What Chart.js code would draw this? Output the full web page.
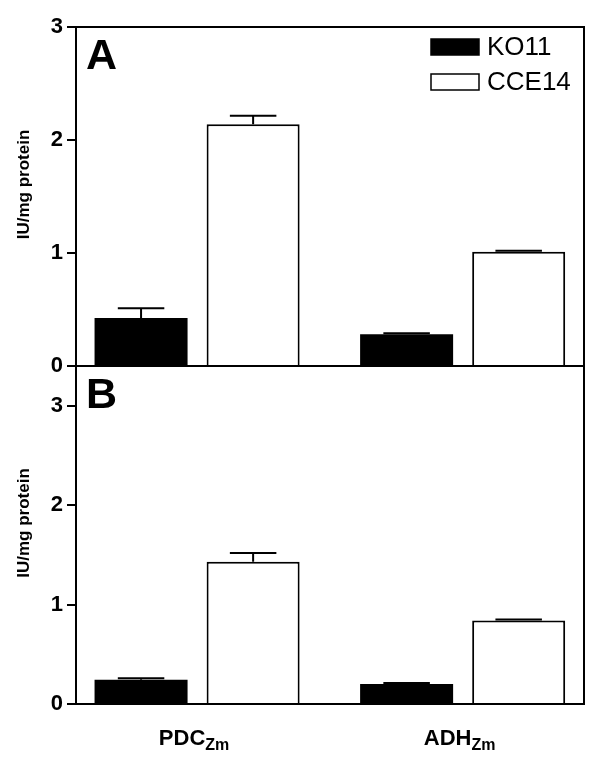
<!DOCTYPE html>
<html>
<head>
<meta charset="utf-8">
<script src="https://cdn.jsdelivr.net/npm/chart.js@4.4.1/dist/chart.umd.min.js"></script>
<style>
    body { margin: 0; background: #fff; }
    #wrap { position: relative; width: 600px; height: 780px; }
    canvas { position: absolute; left: 0; top: 0; }
</style>
</head>
<body>
<div id="wrap">
    <canvas id="chartA" width="600" height="780"></canvas>
    <canvas id="chartB" width="600" height="780"></canvas>
</div>
<script>
// Données
const categories = ["PDC", "ADH"];
const subscripts = ["Zm", "Zm"];
const seriesNames = ["KO11", "CCE14"];

// Panneau A
const ko11A = [0.425, 0.28];
const ko11ErrA = [0.085, 0.01];
const cce14A = [2.14, 1.01];
const cce14ErrA = [0.075, 0.01];

// Panneau B
const ko11B = [0.245, 0.2];
const ko11ErrB = [0.015, 0.01];
const cce14B = [1.43, 0.84];
const cce14ErrB = [0.09, 0.01];

const yTicksA = [0, 1, 2, 3];
const yMaxA = 3;
const yTicksB = [0, 1, 2, 3];
const yMaxB = 3.4;

const yTitle = "IU/mg protein";
const FONT = "'Liberation Sans', Arial, sans-serif";

// Cadre autour de la zone de tracé
const framePlugin = {
    id: "frame",
    afterDraw(chart) {
        const { ctx, chartArea: a } = chart;
        ctx.save();
        ctx.strokeStyle = "#000";
        ctx.lineWidth = 2;
        ctx.strokeRect(a.left, a.top, a.right - a.left, a.bottom - a.top);
        ctx.restore();
    }
};

// Barres d'erreur (moitié haute seulement)
const errorPlugin = {
    id: "errorBars",
    afterDatasetsDraw(chart) {
        const { ctx } = chart;
        const y = chart.scales.y;
        ctx.save();
        ctx.strokeStyle = "#000";
        ctx.lineWidth = 2;
        chart.data.datasets.forEach((ds, i) => {
            const meta = chart.getDatasetMeta(i);
            meta.data.forEach((bar, j) => {
                const top = y.getPixelForValue(ds.data[j].y + ds.errors[j]);
                const cap = bar.width / 4;
                ctx.beginPath();
                ctx.moveTo(bar.x, bar.y);
                ctx.lineTo(bar.x, top);
                ctx.moveTo(bar.x - cap, top);
                ctx.lineTo(bar.x + cap, top);
                ctx.stroke();
            });
        });
        ctx.restore();
    }
};

// Lettre du panneau, titre Y, légende, étiquettes X
const textPlugin = {
    id: "texts",
    afterDraw(chart, args, opts) {
        const { ctx, chartArea: a } = chart;
        ctx.save();
        ctx.fillStyle = "#000";

        // lettre A / B
        ctx.font = "bold 43px " + FONT;
        ctx.textAlign = "left";
        ctx.textBaseline = "alphabetic";
        ctx.fillText(opts.letter, a.left + 10, a.top + 42);

        // titre de l'axe Y
        ctx.save();
        ctx.translate(24, (a.top + a.bottom) / 2 - 12);
        ctx.rotate(-Math.PI / 2);
        ctx.font = "bold 17px " + FONT;
        ctx.textAlign = "center";
        ctx.textBaseline = "middle";
        ctx.fillText(yTitle, 0, 0);
        ctx.restore();

        if (opts.legend) {
            ctx.font = "26px " + FONT;
            ctx.textAlign = "left";
            ctx.textBaseline = "middle";
            chart.data.datasets.forEach((ds, i) => {
                const cy = a.top + 20 + i * 35;
                const bx = a.right - 153;
                ctx.fillStyle = ds.backgroundColor;
                ctx.fillRect(bx, cy - 8, 48, 16);
                ctx.strokeStyle = "#000";
                ctx.lineWidth = 1.5;
                ctx.strokeRect(bx, cy - 8, 48, 16);
                ctx.fillStyle = "#000";
                ctx.fillText(ds.label, bx + 56, cy + 1);
            });
        }

        if (opts.xLabels) {
            const x = chart.scales.x;
            categories.forEach((cat, i) => {
                ctx.font = "bold 22px " + FONT;
                const w1 = ctx.measureText(cat).width;
                ctx.font = "bold 16px " + FONT;
                const w2 = ctx.measureText(subscripts[i]).width;
                const cx = x.getPixelForValue(i) - 3;
                const left = cx - (w1 + w2) / 2;
                const base = a.bottom + 41;
                ctx.textAlign = "left";
                ctx.textBaseline = "alphabetic";
                ctx.font = "bold 22px " + FONT;
                ctx.fillText(cat, left, base);
                ctx.font = "bold 16px " + FONT;
                ctx.fillText(subscripts[i], left + w1, base + 5);
            });
        }
        ctx.restore();
    }
};

function toPoints(values) {
    return values.map((v, i) => ({ x: i, y: v }));
}

function makeChart(id, koData, koErr, cceData, cceErr, yTicks, yMax, padding, opts) {
    return new Chart(document.getElementById(id), {
        type: "bar",
        data: {
            datasets: [{
                label: seriesNames[0],
                data: toPoints(koData),
                errors: koErr,
                backgroundColor: "#000",
                borderColor: "#000",
                borderWidth: 0,
                barPercentage: 0.83,
                categoryPercentage: 0.844
            }, {
                label: seriesNames[1],
                data: toPoints(cceData),
                errors: cceErr,
                backgroundColor: "#fff",
                borderColor: "#000",
                borderWidth: 2,
                barPercentage: 0.83,
                categoryPercentage: 0.844
            }]
        },
        options: {
            responsive: false,
            animation: false,
            devicePixelRatio: 1,
            layout: { padding: padding },
            plugins: {
                legend: { display: false },
                tooltip: { enabled: false },
                texts: opts
            },
            scales: {
                // axe x numérique pour placer les groupes comme sur la figure
                x: {
                    type: "linear",
                    display: false,
                    min: -0.456,
                    max: 1.457,
                    offset: false,
                    afterBuildTicks: (scale) => {
                        scale.ticks = categories.map((c, i) => ({ value: i }));
                    }
                },
                y: {
                    min: 0,
                    max: yMax,
                    afterBuildTicks: (scale) => {
                        scale.ticks = yTicks.map(v => ({ value: v }));
                    },
                    afterFit: (scale) => { scale.width = 76; },
                    ticks: {
                        color: "#000",
                        padding: 4,
                        font: { family: FONT, size: 22, weight: "bold" }
                    },
                    grid: {
                        drawOnChartArea: false,
                        drawTicks: true,
                        tickLength: 9,
                        color: "#000",
                        lineWidth: 2
                    },
                    border: { color: "#000", width: 2 }
                }
            }
        },
        plugins: [errorPlugin, framePlugin, textPlugin]
    });
}

makeChart("chartA", ko11A, ko11ErrA, cce14A, cce14ErrA, yTicksA, yMaxA,
    { left: 0, top: 27, right: 16, bottom: 414 },
    { letter: "A", legend: true, xLabels: false });

makeChart("chartB", ko11B, ko11ErrB, cce14B, cce14ErrB, yTicksB, yMaxB,
    { left: 0, top: 366, right: 16, bottom: 76 },
    { letter: "B", legend: false, xLabels: true });
</script>
</body>
</html>
